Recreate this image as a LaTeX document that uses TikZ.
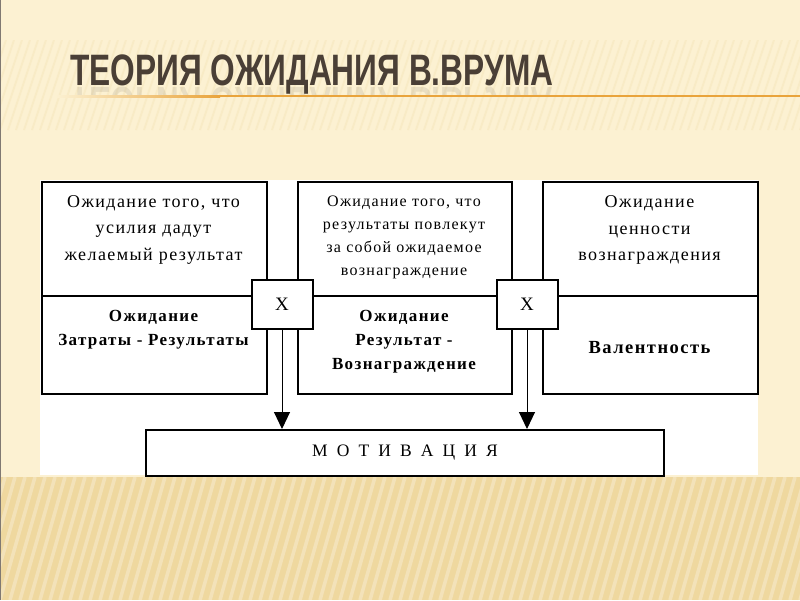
\documentclass[tikz,border=0pt]{standalone}
\usepackage{fontspec}
\setmainfont{Liberation Serif}
\newfontfamily\boxfont[LetterSpace=8]{Liberation Serif}
\newfontfamily\titlefont[FakeStretch=0.72]{Liberation Sans}
\usetikzlibrary{arrows.meta}
\definecolor{bgc}{HTML}{FCF1D2}
\definecolor{bandc}{HTML}{EFD89F}
\definecolor{stripec}{HTML}{F6E6BC}
\definecolor{titlec}{HTML}{4A3F36}
\definecolor{orangec}{HTML}{E9A43C}
\tikzset{
  frame/.style={draw=black, line width=2pt, fill=white},
  topt/.style={font=\boxfont\fontsize{18}{26.5}\selectfont, align=center},
  toptsmall/.style={font=\boxfont\fontsize{16}{23}\selectfont, align=center},
  bott/.style={font=\boxfont\bfseries\fontsize{17}{24}\selectfont, align=center},
  xbox/.style={draw=black, line width=2pt, fill=white, minimum width=61pt, minimum height=49pt, inner sep=0pt, font=\fontsize{19}{19}\selectfont},
  arr/.style={line width=1pt, -{Triangle[width=16pt,length=17pt]}},
}
\begin{document}
\begin{tikzpicture}[x=1pt,y=-1pt]
\useasboundingbox (0,0) rectangle (800,600);
\fill[bgc] (0,0) rectangle (800,600);
% faint stripes behind the title
\begin{scope}
\clip (0,40) rectangle (800,130);
\foreach \i in {-200,-192,...,800} \draw[stripec, line width=2pt, opacity=0.5] (\i,130) -- (\i+30,40);
\end{scope}
% bottom band
\fill[bandc] (0,477) rectangle (800,600);
\begin{scope}
\clip (0,477) rectangle (800,600);
\foreach \i in {-60,-50,...,820} \draw[white, opacity=0.28, line width=3.5pt] (\i,600) -- (\i+35,477);
\end{scope}
\draw[titlec!70, line width=1.5pt] (0.5,0) -- (0.5,600);
% title
\node[anchor=base west, inner sep=0pt, font=\titlefont\bfseries\fontsize{44}{44}\selectfont, text=titlec] (title) at (70,85) {ТЕОРИЯ ОЖИДАНИЯ В.ВРУМА};
\begin{scope}
\clip (60,86) rectangle (560,96);
\node[anchor=base west, inner sep=0pt, font=\titlefont\bfseries\fontsize{44}{44}\selectfont, text=titlec, opacity=0.1, yscale=-1, transform shape] (titlerefl) at (70,87) {ТЕОРИЯ ОЖИДАНИЯ В.ВРУМА};
\end{scope}
\shade[left color=bgc, right color=orangec] (55,95) rectangle (220,97);
\fill[orangec] (220,95) rectangle (800,97);
% white panel
\fill[white] (40,180) rectangle (758,475);
% boxes
\node[frame, minimum width=225pt, minimum height=212pt, anchor=north west, inner sep=0pt] (b1) at (41,181) {};
\node[frame, minimum width=214pt, minimum height=212pt, anchor=north west, inner sep=0pt] (b2) at (297,181) {};
\node[frame, minimum width=215pt, minimum height=212pt, anchor=north west, inner sep=0pt] (b3) at (542,181) {};
\draw[line width=2pt] (b1.west |- 0,296) -- (b1.east |- 0,296);
\draw[line width=2pt] (b2.west |- 0,296) -- (b2.east |- 0,296);
\draw[line width=2pt] (b3.west |- 0,296) -- (b3.east |- 0,296);
% texts
\node[topt] (t1) at (153.5,229.5) {Ожидание того, что\\усилия дадут\\желаемый результат};
\node[bott] (u1) at (153.5,330) {Ожидание\\Затраты - Результаты};
\node[toptsmall] (t2) at (404,237.5) {Ожидание того, что\\результаты повлекут\\за собой ожидаемое\\вознаграждение};
\node[bott] (u2) at (404,342) {Ожидание\\Результат -\\Вознаграждение};
\node[topt] (t3) at (649.5,230) {Ожидание\\ценности\\вознаграждения};
\node[bott, font=\boxfont\bfseries\fontsize{18.5}{24}\selectfont] (u3) at (649.5,348) {Валентность};
% X boxes
\node[xbox] (x1) at (282,304) {X};
\node[xbox] (x2) at (527,304) {X};
% motivation
\node[frame, minimum width=518pt, minimum height=46pt, inner sep=0pt, anchor=north west] (mot) at (145,429) {};
\node[font=\fontsize{17.5}{17.5}\selectfont] (motl) at (mot.center) {М\hspace{0.52em}О\hspace{0.52em}Т\hspace{0.52em}И\hspace{0.52em}В\hspace{0.52em}А\hspace{0.52em}Ц\hspace{0.52em}И\hspace{0.52em}Я};
% arrows
\draw[arr] (x1.south) -- (x1.south |- mot.north);
\draw[arr] (x2.south) -- (x2.south |- mot.north);
\end{tikzpicture}
\end{document}
